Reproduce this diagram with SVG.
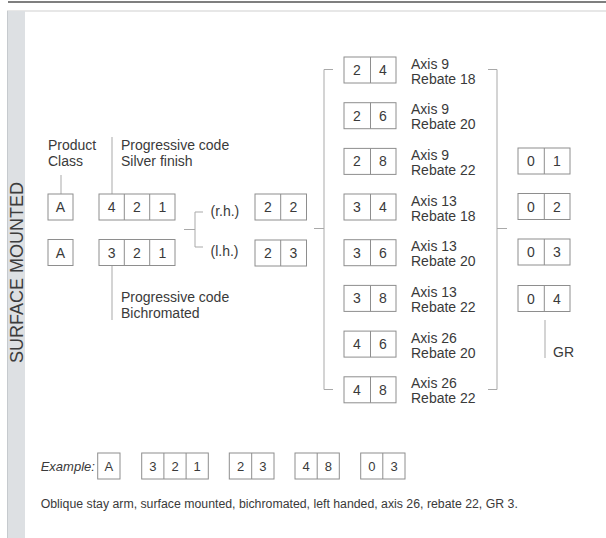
<svg xmlns="http://www.w3.org/2000/svg" width="606" height="538" viewBox="0 0 606 538">
<style>
.box{fill:#fff;stroke:#8e8e8e;stroke-width:1}
.dv{stroke:#8e8e8e;stroke-width:1}
.t{font-family:"Liberation Sans",Arial,Helvetica,sans-serif;font-size:14px;fill:#3a3a3a}
.d{text-anchor:middle}
.s{font-size:13px}
.ln{stroke:#a9a9a9;stroke-width:1;fill:none}
</style>
<rect x="0" y="0" width="606" height="538" fill="#fff"/>
<line x1="8" y1="2" x2="606" y2="2" stroke="#555" stroke-width="1.5"/>
<line x1="7" y1="11" x2="606" y2="11" stroke="#cfcfcf" stroke-width="1"/>
<g id="sidebar">
<rect x="7" y="11" width="18" height="527" fill="#dde0e3"/>
<line x1="7.5" y1="11" x2="7.5" y2="538" stroke="#c6cace"/>
<text class="t" transform="translate(22.5,272.5) rotate(-90)" text-anchor="middle" style="font-size:18px;fill:#3c3c3c">SURFACE MOUNTED</text>
</g>

<g id="connectors" class="ln">
<line x1="61" y1="175" x2="61" y2="194"/>
<line x1="112" y1="137" x2="112" y2="194"/>
<line x1="112" y1="265.5" x2="112" y2="320"/>
<path d="M184,229.5 H195 M203,212 H195 V247 H203"/>
<path d="M314,228.5 H324 M333,69.5 H324 V389.5 H333"/>
<path d="M488,69.5 H497 V389.5 H488 M497,228.5 H507"/>
<line x1="545" y1="320" x2="545" y2="358"/>
</g>

<g id="label-product" class="t"><text x="48" y="149.5">Product</text><text x="48" y="165.5">Class</text></g>
<g id="label-silver" class="t"><text x="121" y="149.5">Progressive code</text><text x="121" y="165.5">Silver finish</text></g>
<g id="label-bichromated" class="t"><text x="121" y="302">Progressive code</text><text x="121" y="318">Bichromated</text></g>

<g id="node-A1"><rect class="box" x="48" y="194" width="25" height="26"/><text class="t d" x="60.5" y="212">A</text></g>
<g id="node-421"><rect class="box" x="99" y="194" width="76" height="26"/><path class="dv" d="M124.3,194V220M149.7,194V220"/><g class="t d"><text x="111.7" y="212">4</text><text x="137" y="212">2</text><text x="162.3" y="212">1</text></g></g>
<g id="node-A2"><rect class="box" x="48" y="239.5" width="25" height="26"/><text class="t d" x="60.5" y="257.5">A</text></g>
<g id="node-321"><rect class="box" x="99" y="239.5" width="76" height="26"/><path class="dv" d="M124.3,239.5V265.5M149.7,239.5V265.5"/><g class="t d"><text x="111.7" y="257.5">3</text><text x="137" y="257.5">2</text><text x="162.3" y="257.5">1</text></g></g>

<g id="label-rh" class="t"><text x="210.5" y="215.5">(r.h.)</text></g>
<g id="label-lh" class="t"><text x="210.5" y="255.5">(l.h.)</text></g>
<g id="node-22"><rect class="box" x="255" y="194" width="51.5" height="26"/><line class="dv" x1="280.7" y1="194" x2="280.7" y2="220"/><g class="t d"><text x="268" y="212">2</text><text x="293.5" y="212">2</text></g></g>
<g id="node-23"><rect class="box" x="255" y="240" width="51.5" height="26"/><line class="dv" x1="280.7" y1="240" x2="280.7" y2="266"/><g class="t d"><text x="268" y="258">2</text><text x="293.5" y="258">3</text></g></g>

<g id="node-24"><rect class="box" x="344" y="57" width="52" height="26"/><line class="dv" x1="370.5" y1="57" x2="370.5" y2="83"/><g class="t d"><text x="357" y="75">2</text><text x="383" y="75">4</text></g><g class="t"><text x="411" y="68.5">Axis 9</text><text x="411" y="83.5">Rebate 18</text></g></g>
<g id="node-26"><rect class="box" x="344" y="102.7" width="52" height="26"/><line class="dv" x1="370.5" y1="102.7" x2="370.5" y2="128.7"/><g class="t d"><text x="357" y="120.7">2</text><text x="383" y="120.7">6</text></g><g class="t"><text x="411" y="114.2">Axis 9</text><text x="411" y="129.2">Rebate 20</text></g></g>
<g id="node-28"><rect class="box" x="344" y="148.4" width="52" height="26"/><line class="dv" x1="370.5" y1="148.4" x2="370.5" y2="174.4"/><g class="t d"><text x="357" y="166.4">2</text><text x="383" y="166.4">8</text></g><g class="t"><text x="411" y="159.9">Axis 9</text><text x="411" y="174.9">Rebate 22</text></g></g>
<g id="node-34"><rect class="box" x="344" y="194" width="52" height="26"/><line class="dv" x1="370.5" y1="194" x2="370.5" y2="220"/><g class="t d"><text x="357" y="212">3</text><text x="383" y="212">4</text></g><g class="t"><text x="411" y="205.5">Axis 13</text><text x="411" y="220.5">Rebate 18</text></g></g>
<g id="node-36"><rect class="box" x="344" y="239.7" width="52" height="26"/><line class="dv" x1="370.5" y1="239.7" x2="370.5" y2="265.7"/><g class="t d"><text x="357" y="257.7">3</text><text x="383" y="257.7">6</text></g><g class="t"><text x="411" y="251.2">Axis 13</text><text x="411" y="266.2">Rebate 20</text></g></g>
<g id="node-38"><rect class="box" x="344" y="285.4" width="52" height="26"/><line class="dv" x1="370.5" y1="285.4" x2="370.5" y2="311.4"/><g class="t d"><text x="357" y="303.4">3</text><text x="383" y="303.4">8</text></g><g class="t"><text x="411" y="296.9">Axis 13</text><text x="411" y="311.9">Rebate 22</text></g></g>
<g id="node-46"><rect class="box" x="344" y="331.1" width="52" height="26"/><line class="dv" x1="370.5" y1="331.1" x2="370.5" y2="357.1"/><g class="t d"><text x="357" y="349.1">4</text><text x="383" y="349.1">6</text></g><g class="t"><text x="411" y="342.6">Axis 26</text><text x="411" y="357.6">Rebate 20</text></g></g>
<g id="node-48"><rect class="box" x="344" y="376.8" width="52" height="26"/><line class="dv" x1="370.5" y1="376.8" x2="370.5" y2="402.8"/><g class="t d"><text x="357" y="394.8">4</text><text x="383" y="394.8">8</text></g><g class="t"><text x="411" y="388.3">Axis 26</text><text x="411" y="403.3">Rebate 22</text></g></g>

<g id="node-01"><rect class="box" x="518" y="148" width="52" height="26"/><line class="dv" x1="544.3" y1="148" x2="544.3" y2="174"/><g class="t d"><text x="531" y="166">0</text><text x="557" y="166">1</text></g></g>
<g id="node-02"><rect class="box" x="518" y="193.5" width="52" height="26"/><line class="dv" x1="544.3" y1="193.5" x2="544.3" y2="219.5"/><g class="t d"><text x="531" y="211.5">0</text><text x="557" y="211.5">2</text></g></g>
<g id="node-03"><rect class="box" x="518" y="239" width="52" height="26"/><line class="dv" x1="544.3" y1="239" x2="544.3" y2="265"/><g class="t d"><text x="531" y="257">0</text><text x="557" y="257">3</text></g></g>
<g id="node-04"><rect class="box" x="518" y="285.5" width="52" height="26"/><line class="dv" x1="544.3" y1="285.5" x2="544.3" y2="311.5"/><g class="t d"><text x="531" y="303.5">0</text><text x="557" y="303.5">4</text></g></g>
<g id="label-GR" class="t"><text x="553" y="357">GR</text></g>

<g id="example">
<text class="t s" x="40.7" y="471" font-style="italic">Example:</text>
<rect class="box" x="97.7" y="453" width="22.3" height="26"/><text class="t d s" x="108.9" y="471">A</text>
<rect class="box" x="141.7" y="453" width="66.6" height="26"/><path class="dv" d="M163.9,453V479M186.1,453V479"/><g class="t d s"><text x="152.8" y="471">3</text><text x="175" y="471">2</text><text x="197.2" y="471">1</text></g>
<rect class="box" x="229.3" y="453" width="44.7" height="26"/><line class="dv" x1="251.7" y1="453" x2="251.7" y2="479"/><g class="t d s"><text x="240.5" y="471">2</text><text x="262.9" y="471">3</text></g>
<rect class="box" x="295" y="453" width="44.3" height="26"/><line class="dv" x1="317.2" y1="453" x2="317.2" y2="479"/><g class="t d s"><text x="306.1" y="471">4</text><text x="328.3" y="471">8</text></g>
<rect class="box" x="360.7" y="453" width="44.3" height="26"/><line class="dv" x1="382.8" y1="453" x2="382.8" y2="479"/><g class="t d s"><text x="371.8" y="471">0</text><text x="394" y="471">3</text></g>
<text class="t" x="40.7" y="508" style="font-size:12.3px">Oblique stay arm, surface mounted, bichromated, left handed, axis 26, rebate 22, GR 3.</text>
</g>
</svg>
